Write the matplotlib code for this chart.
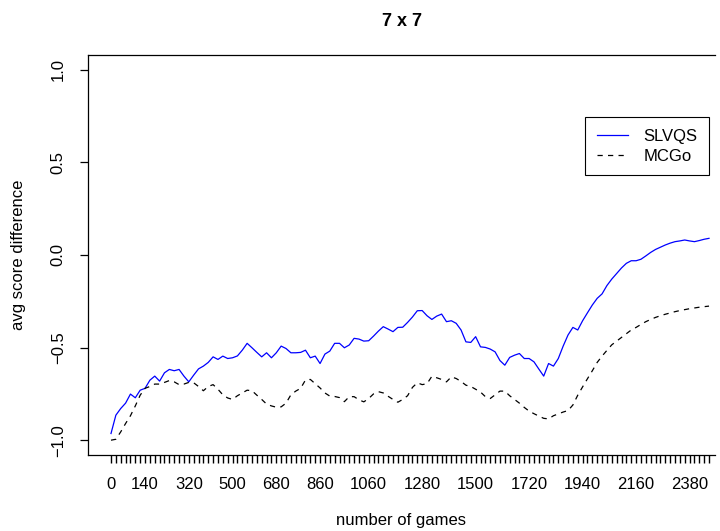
import numpy as np
import matplotlib
matplotlib.use("Agg")
import matplotlib.pyplot as plt

plt.rcParams['font.family'] = ['Liberation Sans', 'DejaVu Sans']

# number of games (one point every 20 games)
games = np.arange(0, 2461, 20)

slvqs = [
    -0.964, -0.865, -0.829, -0.800, -0.751, -0.771, -0.730, -0.720, -0.676, -0.654,
    -0.681, -0.636, -0.618, -0.625, -0.618, -0.654, -0.685, -0.649, -0.615, -0.600,
    -0.580, -0.550, -0.564, -0.546, -0.559, -0.555, -0.545, -0.514, -0.477, -0.501,
    -0.526, -0.550, -0.528, -0.555, -0.528, -0.492, -0.505, -0.528, -0.528, -0.526,
    -0.514, -0.555, -0.546, -0.586, -0.535, -0.519, -0.477, -0.477, -0.501, -0.486,
    -0.450, -0.454, -0.465, -0.463, -0.438, -0.411, -0.387, -0.400, -0.414, -0.391,
    -0.390, -0.364, -0.335, -0.301, -0.300, -0.328, -0.348, -0.330, -0.319, -0.360,
    -0.355, -0.369, -0.405, -0.469, -0.472, -0.441, -0.496, -0.499, -0.508, -0.523,
    -0.570, -0.595, -0.553, -0.541, -0.532, -0.559, -0.559, -0.577, -0.616, -0.654,
    -0.586, -0.600, -0.559, -0.492, -0.432, -0.391, -0.405, -0.355, -0.312, -0.270,
    -0.234, -0.210, -0.165, -0.130, -0.100, -0.070, -0.045, -0.031, -0.031, -0.023,
    -0.005, 0.014, 0.030, 0.042, 0.054, 0.064, 0.072, 0.076, 0.081, 0.076,
    0.072, 0.078, 0.085, 0.090,
]

mcgo = [
    -1.000, -0.995, -0.955, -0.910, -0.868, -0.815, -0.757, -0.720, -0.710, -0.697,
    -0.697, -0.688, -0.678, -0.685, -0.700, -0.697, -0.688, -0.690, -0.710, -0.733,
    -0.710, -0.700, -0.725, -0.755, -0.772, -0.780, -0.760, -0.745, -0.730, -0.733,
    -0.757, -0.780, -0.805, -0.815, -0.822, -0.820, -0.800, -0.755, -0.735, -0.720,
    -0.675, -0.672, -0.695, -0.718, -0.745, -0.762, -0.764, -0.770, -0.792, -0.765,
    -0.765, -0.782, -0.793, -0.775, -0.750, -0.738, -0.745, -0.763, -0.780, -0.795,
    -0.780, -0.760, -0.715, -0.690, -0.700, -0.695, -0.655, -0.663, -0.672, -0.685,
    -0.658, -0.667, -0.683, -0.703, -0.710, -0.725, -0.740, -0.765, -0.775, -0.755,
    -0.735, -0.735, -0.760, -0.780, -0.800, -0.823, -0.843, -0.857, -0.870, -0.882,
    -0.885, -0.868, -0.858, -0.848, -0.840, -0.810, -0.757, -0.712, -0.668, -0.625,
    -0.580, -0.546, -0.515, -0.485, -0.465, -0.445, -0.425, -0.405, -0.391, -0.375,
    -0.360, -0.348, -0.337, -0.328, -0.320, -0.313, -0.306, -0.300, -0.295, -0.290,
    -0.286, -0.282, -0.279, -0.276,
]

xtick_labels = [0, 140, 320, 500, 680, 860, 1060, 1280, 1500, 1720, 1940, 2160, 2380]
yticks = [-1.0, -0.5, 0.0, 0.5, 1.0]

fig = plt.figure(figsize=(7.2, 5.31), dpi=100)
ax = fig.add_axes([88/720, 1-455/531, 627/720, 400/531])

ax.plot(games, slvqs, color='#0000FF', lw=0.9, label='SLVQS')
ax.plot(games, mcgo, color='black', lw=0.9, linestyle=(0, (4.2, 4.2)), label='MCGo')

ax.set_xlim(-94.6, 2484.6)
ax.set_ylim(-1.08, 1.08)

ax.set_xticks(games)
ax.set_xticklabels([str(g) if g in xtick_labels else '' for g in games])
ax.set_yticks(yticks)
ax.set_yticklabels(['\u22121.0', '\u22120.5', '0.0', '0.5', '1.0'], rotation=90, va='center')

ax.tick_params(axis='x', direction='out', length=6, width=1.0, pad=10, labelsize=12)
ax.tick_params(axis='y', direction='out', length=6, width=0.9, pad=10, labelsize=12)

for s in ['top', 'left', 'bottom']:
    ax.spines[s].set_linewidth(0.9)
ax.spines['right'].set_visible(False)

ax.set_xlabel('number of games', fontsize=12)
ax.xaxis.set_label_coords(0.5, -0.1625)
ax.xaxis.label.set_va('center')
ax.set_ylabel('avg score difference', fontsize=12)
ax.yaxis.set_label_coords(-0.1116, 0.5)
ax.yaxis.label.set_va('center')

fig.text(401.5/720, 1-21/531, '7 x 7', ha='center', va='center', fontsize=13, fontweight='bold')

leg = ax.legend(loc='upper right', bbox_to_anchor=((709-88)/627, (455-117)/400),
                borderaxespad=0, fancybox=False, framealpha=1, edgecolor='black',
                fontsize=12, handlelength=1.9, handletextpad=0.9, labelspacing=0.3,
                borderpad=0.7)
leg.get_frame().set_linewidth(0.8)

fig.savefig('out.png', dpi=100)
